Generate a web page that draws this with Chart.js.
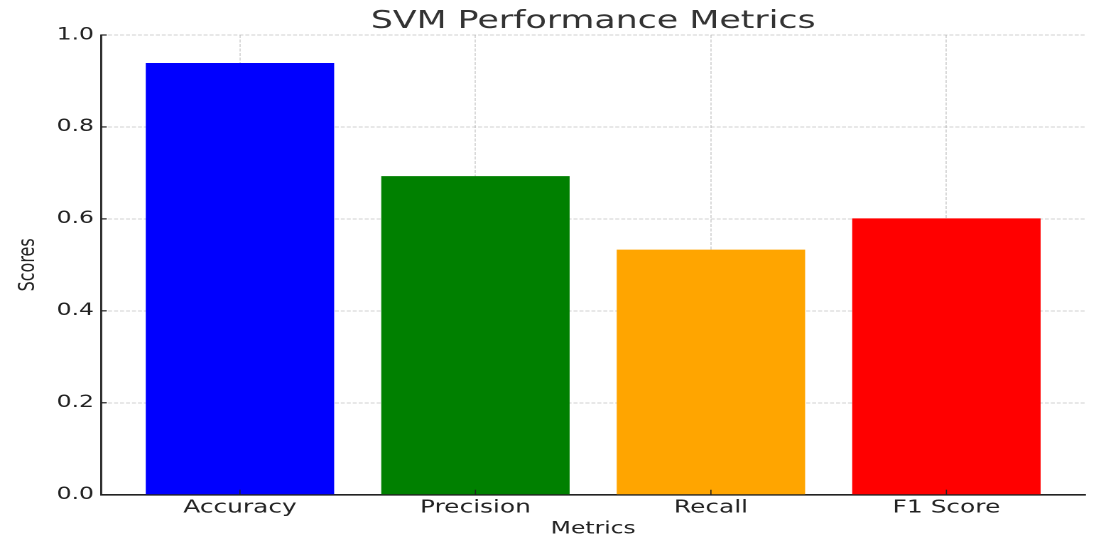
<!DOCTYPE html>
<html>
<head>
<meta charset="utf-8">
<script src="https://cdn.jsdelivr.net/npm/chart.js@4/dist/chart.umd.min.js"></script>
<style>
  html, body { margin: 0; padding: 0; background: #fff; overflow: hidden; }
  /* the reference is stretched sideways, so draw narrow and widen */
  #wrap { width: 775px; height: 548px; transform: scaleX(1.4206); transform-origin: 0 0; }
</style>
</head>
<body>
<div id="wrap"><canvas id="svmChart"></canvas></div>
<script>
const categories = ['Accuracy', 'Precision', 'Recall', 'F1 Score'];
const scores = [0.939, 0.693, 0.533, 0.601];
const barColors = ['#0000ff', '#008000', '#ffa500', '#ff0000'];
const yTicks = [0.0, 0.2, 0.4, 0.6, 0.8, 1.0];

const font = 'DejaVu Sans';
const gridColor = 'rgba(176,176,176,0.6)';

// matplotlib style ticks pointing into the plot
const inwardTicks = {
    id: 'inwardTicks',
    afterDraw(chart) {
        const { ctx, chartArea, scales } = chart;
        ctx.save();
        ctx.strokeStyle = '#222';
        ctx.lineWidth = 0.8;
        scales.x.ticks.forEach(t => {
            const px = scales.x.getPixelForValue(t.value);
            ctx.beginPath();
            ctx.moveTo(px, chartArea.bottom);
            ctx.lineTo(px, chartArea.bottom - 5);
            ctx.stroke();
        });
        ctx.lineWidth = 1.2;
        scales.y.ticks.forEach(t => {
            const py = scales.y.getPixelForValue(t.value);
            ctx.beginPath();
            ctx.moveTo(chartArea.left, py);
            ctx.lineTo(chartArea.left + 4, py);
            ctx.stroke();
        });
        ctx.restore();
    }
};

document.addEventListener('DOMContentLoaded', function() {
    const ctx = document.getElementById('svmChart');

    new Chart(ctx, {
        type: 'bar',
        data: {
            datasets: [{
                data: scores.map((v, i) => ({ x: i, y: v })),
                backgroundColor: barColors,
                borderWidth: 0,
                categoryPercentage: 1.0,
                barPercentage: 0.8
            }]
        },
        options: {
            responsive: true,
            maintainAspectRatio: false,
            animation: false,
            devicePixelRatio: 2,
            layout: { padding: { left: 10, right: 11, top: 0, bottom: 9 } },
            plugins: {
                legend: { display: false },
                tooltip: { enabled: false },
                title: {
                    display: true,
                    text: 'SVM Performance Metrics',
                    fullSize: false,
                    color: '#333',
                    font: { family: font, size: 24.5, weight: 'normal' },
                    padding: { top: 7, bottom: -1.4 }
                }
            },
            scales: {
                x: {
                    type: 'linear',
                    min: -0.59,
                    max: 3.59,
                    offset: false,
                    z: 1,
                    afterFit: s => { s.height = 44.3; },
                    ticks: {
                        stepSize: 1,
                        includeBounds: false,
                        autoSkip: false,
                        maxRotation: 0,
                        padding: 3,
                        color: '#222',
                        font: { family: font, size: 17.5 },
                        callback: v => categories[v] ?? ''
                    },
                    grid: {
                        color: gridColor,
                        lineWidth: 0.8,
                        offset: false,
                        drawTicks: false
                    },
                    border: { display: true, color: '#222', width: 1.6, dash: [3, 1.5] },
                    title: {
                        display: true,
                        text: 'Metrics',
                        color: '#222',
                        font: { family: font, size: 16.5 },
                        padding: 0
                    }
                },
                y: {
                    min: 0,
                    max: 1,
                    z: 1,
                    afterFit: s => { s.width = 61.1; },
                    afterBuildTicks: s => { s.ticks = yTicks.map(v => ({ value: v })); },
                    ticks: {
                        padding: 5,
                        color: '#222',
                        font: { family: font, size: 16.5 },
                        callback: v => Number(v).toFixed(1)
                    },
                    grid: {
                        color: gridColor,
                        lineWidth: 1,
                        drawTicks: false
                    },
                    border: { display: true, color: '#222', width: 1.4, dash: [2.8, 1.4] },
                    title: {
                        display: true,
                        text: 'Scores',
                        color: '#222',
                        font: { family: font, size: 16 },
                        padding: 0
                    }
                }
            }
        },
        plugins: [inwardTicks]
    });
});
</script>
</body>
</html>
